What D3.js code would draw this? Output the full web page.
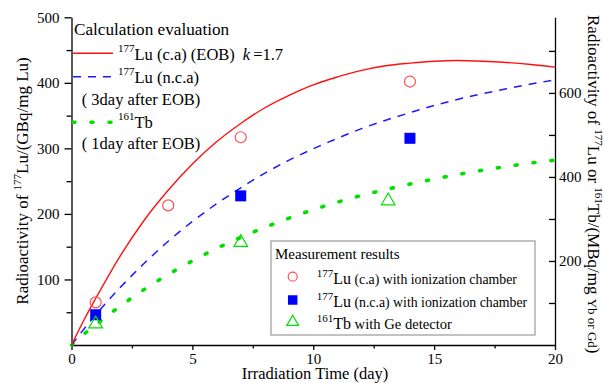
<!DOCTYPE html>
<html>
<head>
<meta charset="utf-8">
<script src="https://cdn.jsdelivr.net/npm/d3@7"></script>
</head>
<body style="margin:0;background:#fff">
<svg id="chart" width="604" height="383" style="display:block"></svg>
<script>
// irradiation time (day) for the calculated curves
var days = [0, 0.5, 1, 2, 3, 4, 5, 6, 7, 8, 9, 10, 11, 12, 13, 14, 15, 16, 17, 18, 19, 20];

// 177Lu (c.a) at EOB, GBq/mg Lu (left axis)
var luCaCalc = [0, 37, 71, 135, 190, 236, 276, 310, 338, 362, 381, 397, 409, 419, 426, 430, 433, 434, 433, 431, 428, 424];
// 177Lu (n.c.a) 3 day after EOB, MBq/mg Yb (right axis)
var luNcaCalc = [0, 37, 72, 136, 194, 247, 294, 336, 374, 409, 440, 467, 492, 515, 535, 553, 570, 585, 598, 610, 621, 631];
// 161Tb 1 day after EOB, MBq/mg Gd (right axis)
var tbCalc = [0, 25, 48, 92, 132, 168, 200, 230, 256, 280, 302, 322, 340, 356, 370, 383, 395, 406, 416, 425, 433, 440];

// measurements
var luCaDays = [1, 4, 7, 14];
var luCaMeas = [65, 213, 317, 402];
var luNcaDays = [1, 7, 14];
var luNcaMeas = [72, 355, 492];
var tbDays = [1, 7, 13.1];
var tbMeas = [50, 244, 343];

var xTicks = [0, 2.5, 5, 7.5, 10, 12.5, 15, 17.5, 20];
var leftTicks = [50, 100, 150, 200, 250, 300, 350, 400, 450, 500];
var rightTicks = [100, 200, 300, 400, 500, 600, 700];

var FONT = 'Liberation Serif';

var svg = d3.select('#chart');

var x = d3.scaleLinear().domain([0, 20]).range([71.5, 555]);
var yL = d3.scaleLinear().domain([0, 500]).range([345, 17.3]);
var yR = d3.scaleLinear().domain([0, 780]).range([345, 17.3]);

var red = '#ff1010';
var blue = '#1a1aff';
var green = '#00e000';

drawAxes();
drawCurves();
drawPoints();
drawCalcLegend();
drawMeasLegend();

// every text gets the serif face set on itself
svg.selectAll('text')
  .attr('font-family', FONT)
  .style('font-family', FONT);


function styleAxis(g) {
  g.attr('font-size', 15);
  g.selectAll('path, line').attr('stroke', '#000').attr('stroke-width', 1.3);
  g.selectAll('text').attr('fill', '#000');
}


function drawAxes() {
  var gx = svg.append('g')
    .attr('transform', 'translate(0,' + yL(0) + ')')
    .call(d3.axisBottom(x)
      .tickValues(xTicks)
      .tickSize(5)
      .tickSizeOuter(0)
      .tickPadding(3.5)
      .tickFormat(function(d) { return d % 5 === 0 ? d : ''; }))
    .call(styleAxis);
  gx.selectAll('.tick line')
    .attr('y2', function(d) { return d % 5 === 0 ? 5 : 3.5; });

  var gl = svg.append('g')
    .attr('transform', 'translate(' + x(0) + ',0)')
    .call(d3.axisLeft(yL)
      .tickValues(leftTicks)
      .tickSize(7)
      .tickSizeOuter(0)
      .tickPadding(5)
      .tickFormat(function(d) { return d % 100 === 0 ? d : ''; }))
    .call(styleAxis);
  gl.selectAll('.tick line')
    .attr('x2', function(d) { return d % 100 === 0 ? -7 : -5; });

  svg.append('g')
    .attr('transform', 'translate(' + x(20) + ',0)')
    .call(d3.axisRight(yR)
      .tickValues(rightTicks)
      .tickSize(-6)
      .tickSizeOuter(0)
      .tickPadding(4)
      .tickFormat(function(d) { return d % 200 === 0 ? d : ''; }))
    .call(styleAxis);

  svg.append('text')
    .attr('x', 315)
    .attr('y', 378.5)
    .attr('text-anchor', 'middle')
    .attr('font-size', 16.5)
    .text('Irradiation Time (day)');

  var tl = svg.append('text')
    .attr('transform', 'translate(28,181) rotate(-90)')
    .attr('text-anchor', 'middle')
    .attr('font-size', 17);
  tl.append('tspan').text('Radioactivity of ');
  tl.append('tspan').attr('dy', -7).attr('font-size', 11).text('177');
  tl.append('tspan').attr('dy', 7).text('Lu/(GBq/mg Lu)');

  var tr = svg.append('text')
    .attr('transform', 'translate(588,15) rotate(90)')
    .attr('text-anchor', 'start')
    .attr('font-size', 17);
  tr.append('tspan').text('Radioactivity of ');
  tr.append('tspan').attr('dy', -7).attr('font-size', 11).text('177');
  tr.append('tspan').attr('dy', 7).text('Lu or ');
  tr.append('tspan').attr('dy', -7).attr('font-size', 11).text('161');
  tr.append('tspan').attr('dy', 7).text('Tb/(MBq/mg ');
  tr.append('tspan').attr('font-size', 13).text('Yb or Gd');
  tr.append('tspan').text(')');
}


function drawCurves() {
  var lineL = d3.line()
    .x(function(d, i) { return x(days[i]); })
    .y(function(d) { return yL(d); })
    .curve(d3.curveMonotoneX);
  var lineR = d3.line()
    .x(function(d, i) { return x(days[i]); })
    .y(function(d) { return yR(d); })
    .curve(d3.curveMonotoneX);

  svg.append('path')
    .attr('d', lineR(tbCalc))
    .attr('fill', 'none')
    .attr('stroke', green)
    .attr('stroke-width', 3.6)
    .attr('stroke-linecap', 'round')
    .attr('stroke-dasharray', '2,16');

  svg.append('path')
    .attr('d', lineR(luNcaCalc))
    .attr('fill', 'none')
    .attr('stroke', blue)
    .attr('stroke-width', 1.5)
    .attr('stroke-dasharray', '8,7');

  svg.append('path')
    .attr('d', lineL(luCaCalc))
    .attr('fill', 'none')
    .attr('stroke', red)
    .attr('stroke-width', 1.4);
}


function circleMark(sel, cx, cy, r) {
  return sel.append('circle')
    .attr('cx', cx).attr('cy', cy).attr('r', r)
    .attr('fill', 'none')
    .attr('stroke', '#ff5050')
    .attr('stroke-width', 1.2);
}

function squareMark(sel, cx, cy, s) {
  return sel.append('rect')
    .attr('x', cx - s / 2).attr('y', cy - s / 2)
    .attr('width', s).attr('height', s)
    .attr('fill', '#0000ff');
}

function triangleMark(sel, cx, cy, area) {
  return sel.append('path')
    .attr('transform', 'translate(' + cx + ',' + cy + ')')
    .attr('d', d3.symbol(d3.symbolTriangle, area)())
    .attr('fill', 'none')
    .attr('stroke', green)
    .attr('stroke-width', 1.2);
}


function drawPoints() {
  var g = svg.append('g');
  luCaDays.forEach(function(d, i) {
    circleMark(g, x(d), yL(luCaMeas[i]), 5.5);
  });
  luNcaDays.forEach(function(d, i) {
    squareMark(g, x(d), yR(luNcaMeas[i]), 11);
  });
  tbDays.forEach(function(d, i) {
    triangleMark(g, x(d), yR(tbMeas[i]), 80);
  });
}


function drawCalcLegend() {
  var g = svg.append('g').attr('font-size', 16.5);

  g.append('text').attr('x', 74).attr('y', 34.5).attr('font-size', 17.2)
    .text('Calculation evaluation');

  g.append('line')
    .attr('x1', 73).attr('x2', 113).attr('y1', 53.3).attr('y2', 53.3)
    .attr('stroke', red).attr('stroke-width', 1.4);
  var t1 = g.append('text').attr('x', 118).attr('y', 60);
  t1.append('tspan').attr('dy', -8).attr('font-size', 11).text('177');
  t1.append('tspan').attr('dy', 8).text('Lu (c.a) (EOB)');
  t1.append('tspan').attr('dx', 8).attr('font-style', 'italic').text('k');
  t1.append('tspan').attr('dx', 3).text('=1.7');

  g.append('line')
    .attr('x1', 73).attr('x2', 113).attr('y1', 76.7).attr('y2', 76.7)
    .attr('stroke', blue).attr('stroke-width', 1.5)
    .attr('stroke-dasharray', '8,7');
  var t2 = g.append('text').attr('x', 118).attr('y', 83.3);
  t2.append('tspan').attr('dy', -8).attr('font-size', 11).text('177');
  t2.append('tspan').attr('dy', 8).text('Lu (n.c.a)');
  g.append('text').attr('x', 81.7).attr('y', 104.5).text('( 3day after EOB)');

  g.append('line')
    .attr('x1', 73).attr('x2', 113).attr('y1', 122.3).attr('y2', 122.3)
    .attr('stroke', green).attr('stroke-width', 3.6)
    .attr('stroke-linecap', 'round')
    .attr('stroke-dasharray', '2,16');
  var t3 = g.append('text').attr('x', 118).attr('y', 128);
  t3.append('tspan').attr('dy', -8).attr('font-size', 11).text('161');
  t3.append('tspan').attr('dy', 8).text('Tb');
  g.append('text').attr('x', 81.7).attr('y', 148.5).text('( 1day after EOB)');
}


function drawMeasLegend() {
  var g = svg.append('g');

  g.append('rect')
    .attr('x', 271).attr('y', 241)
    .attr('width', 264).attr('height', 94)
    .attr('fill', '#fff')
    .attr('stroke', '#999')
    .attr('stroke-width', 1.2);

  g.append('text')
    .attr('x', 275).attr('y', 259)
    .attr('font-size', 15)
    .text('Measurement results');

  circleMark(g, 292.7, 276.7, 4.5);
  squareMark(g, 292.7, 300, 9.5);
  triangleMark(g, 292.7, 322, 60);

  var rows = [
    {sup: '177', big: 'Lu', rest: ' (c.a) with ionization chamber', size: 13.8, y: 284},
    {sup: '177', big: 'Lu', rest: ' (n.c.a) with ionization chamber', size: 13.8, y: 306.5},
    {sup: '161', big: 'Tb', rest: ' with Ge detector', size: 14.6, y: 328.5}
  ];
  rows.forEach(function(r) {
    var t = g.append('text').attr('x', 316.7).attr('y', r.y);
    t.append('tspan').attr('dy', -7).attr('font-size', 11).text(r.sup);
    t.append('tspan').attr('dy', 7).attr('font-size', 16).text(r.big);
    t.append('tspan').attr('font-size', r.size).text(r.rest);
  });
}
</script>
</body>
</html>
